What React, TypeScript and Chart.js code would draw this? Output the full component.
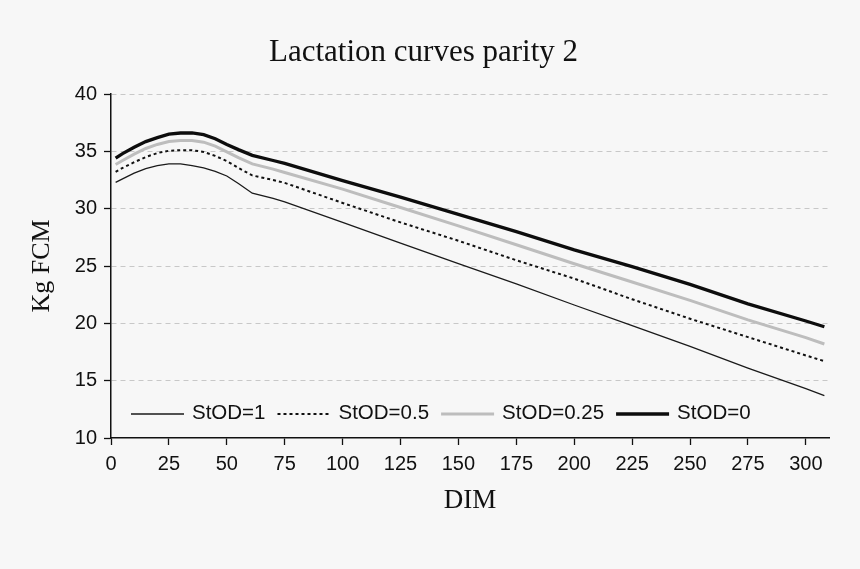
import React, { useEffect, useRef } from "react";
import { Chart, registerables } from "chart.js";

Chart.register(...registerables);

const days = [2, 5, 10, 15, 20, 25, 30, 35, 40, 45, 50, 55, 61, 70, 75, 100, 125, 150, 175, 200, 225, 250, 275, 300, 308];
const stod1 = [32.3, 32.6, 33.1, 33.5, 33.75, 33.9, 33.9, 33.75, 33.55, 33.25, 32.85, 32.2, 31.35, 30.9, 30.6, 28.8, 27.0, 25.2, 23.45, 21.6, 19.8, 18.0, 16.1, 14.3, 13.7];
const stod05 = [33.2, 33.55, 34.05, 34.5, 34.85, 35.05, 35.1, 35.1, 34.95, 34.6, 34.15, 33.55, 32.9, 32.5, 32.25, 30.5, 28.8, 27.2, 25.5, 23.9, 22.1, 20.4, 18.8, 17.2, 16.7];
const stod025 = [33.85, 34.2, 34.75, 35.25, 35.6, 35.85, 35.95, 35.95, 35.8, 35.45, 34.95, 34.45, 33.9, 33.45, 33.15, 31.7, 30.1, 28.5, 26.85, 25.2, 23.6, 22.0, 20.3, 18.75, 18.2];
const stod0 = [34.4, 34.8, 35.35, 35.85, 36.2, 36.5, 36.6, 36.6, 36.45, 36.1, 35.6, 35.15, 34.65, 34.2, 33.95, 32.45, 31.0, 29.5, 28.0, 26.4, 24.95, 23.4, 21.7, 20.2, 19.7];
const seriesLabels = ["StOD=1", "StOD=0.5", "StOD=0.25", "StOD=0"];
const xTicks = [0, 25, 50, 75, 100, 125, 150, 175, 200, 225, 250, 275, 300];
const yTicks = [10, 15, 20, 25, 30, 35, 40];

const SANS = "'Liberation Sans', Arial, Helvetica, sans-serif";
const SERIF = "'Liberation Serif', 'Times New Roman', Times, serif";

const legendPlugin = {
  id: "insideLegend",
  afterDatasetsDraw(chart: any) {
    const { ctx, chartArea } = chart;
    ctx.save();
    ctx.font = `20.5px ${SANS}`;
    ctx.textBaseline = "middle";
    ctx.textAlign = "left";
    let x = chartArea.left + 20;
    const y = chartArea.bottom - 25;
    chart.data.datasets.forEach((ds: any) => {
      ctx.beginPath();
      ctx.setLineDash(ds.borderDash || []);
      ctx.lineWidth = ds.borderWidth;
      ctx.strokeStyle = ds.borderColor;
      ctx.moveTo(x, y + 1);
      ctx.lineTo(x + 53, y + 1);
      ctx.stroke();
      ctx.setLineDash([]);
      x += 53 + 8;
      ctx.fillStyle = "#111";
      ctx.fillText(ds.label, x, y);
      x += ctx.measureText(ds.label).width + 12;
    });
    ctx.restore();
  },
};

function toPoints(vals: number[]) {
  return days.map((d, i) => ({ x: d, y: vals[i] }));
}

export default function App() {
  const ref = useRef<HTMLCanvasElement>(null);
  useEffect(() => {
    const chart = new Chart(ref.current as HTMLCanvasElement, {
      type: "line",
      data: {
        datasets: [
          { label: seriesLabels[0], data: toPoints(stod1), borderColor: "#1a1a1a", borderWidth: 1.3, pointRadius: 0, fill: false },
          { label: seriesLabels[1], data: toPoints(stod05), borderColor: "#111111", borderWidth: 2, borderDash: [3, 3], pointRadius: 0, fill: false },
          { label: seriesLabels[2], data: toPoints(stod025), borderColor: "#bdbdbd", borderWidth: 3, pointRadius: 0, fill: false },
          { label: seriesLabels[3], data: toPoints(stod0), borderColor: "#0d0d0d", borderWidth: 3.3, pointRadius: 0, fill: false },
        ],
      },
      options: {
        responsive: false,
        animation: false,
        devicePixelRatio: 1,
        layout: { padding: { left: 18, right: 31, top: 0, bottom: 0 } },
        plugins: {
          legend: { display: false },
          tooltip: { enabled: false },
          title: {
            display: true,
            text: "Lactation curves parity 2",
            color: "#111",
            font: { family: SERIF, size: 31, weight: "normal" },
            padding: { top: 34, bottom: 22.8 },
          },
        },
        scales: {
          x: {
            type: "linear",
            min: 0,
            max: 310,
            afterBuildTicks: (s: any) => {
              s.ticks = xTicks.map((v) => ({ value: v }));
            },
            afterFit: (s: any) => {
              s.height = 131;
            },
            ticks: { color: "#111", font: { family: SANS, size: 20 }, padding: 7, maxRotation: 0, autoSkip: false },
            grid: { drawOnChartArea: false, drawTicks: true, tickLength: 7, tickColor: "#111", tickWidth: 1.3 },
            border: { color: "#111", width: 1.5 },
            title: {
              display: true,
              text: "DIM",
              color: "#111",
              font: { family: SERIF, size: 27, weight: "normal" },
              padding: { top: 0, bottom: 52 },
            },
          },
          y: {
            type: "linear",
            min: 10,
            max: 40,
            afterBuildTicks: (s: any) => {
              s.ticks = yTicks.map((v) => ({ value: v }));
            },
            afterFit: (s: any) => {
              s.width = 93;
            },
            ticks: { color: "#111", font: { family: SANS, size: 20 }, padding: 7 },
            grid: {
              color: (c: any) => (c.tick && c.tick.value === 10 ? "rgba(0,0,0,0)" : "#c8c8c8"),
              lineWidth: 1,
              drawTicks: true,
              tickLength: 7,
              tickColor: "#111",
              tickWidth: 1.3,
            },
            border: { color: "#111", width: 1.5, dash: [5, 4] },
            title: {
              display: true,
              text: "Kg FCM",
              color: "#111",
              font: { family: SERIF, size: 26, weight: "normal" },
              padding: { top: 8.4, bottom: 0 },
            },
          },
        },
      },
      plugins: [legendPlugin],
    } as any);
    return () => chart.destroy();
  }, []);
  return (
    <div style={{ position: "absolute", left: 0, top: 0, width: 860, height: 569, background: "#f7f7f7" }}>
      <canvas ref={ref} width={860} height={569} style={{ display: "block", width: 860, height: 569 }} />
    </div>
  );
}
